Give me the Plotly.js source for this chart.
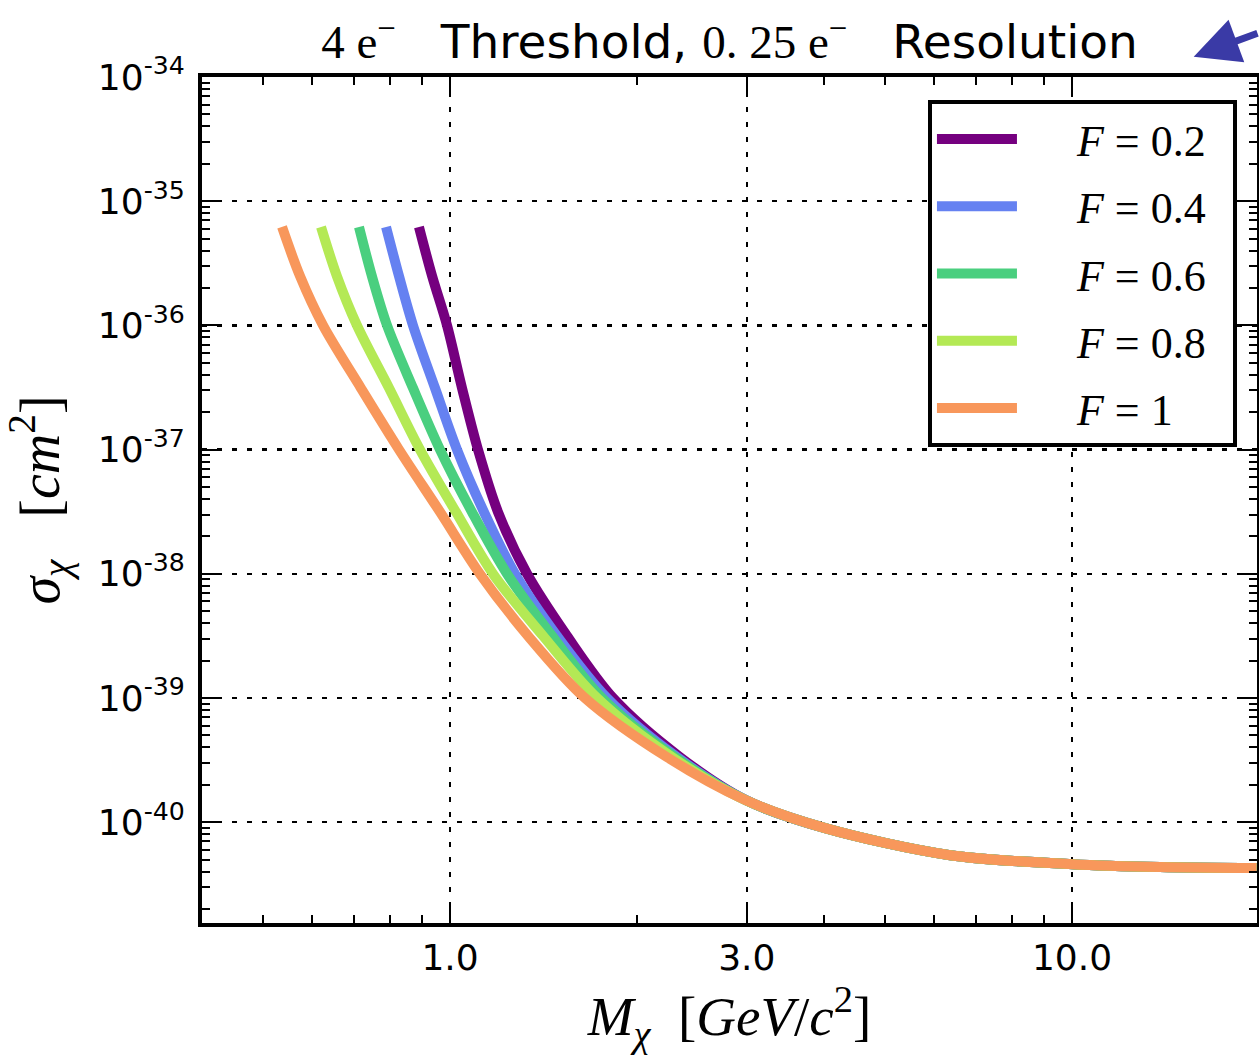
<!DOCTYPE html>
<html>
<head>
<meta charset="utf-8">
<script src="https://cdn.plot.ly/plotly-3.0.1.min.js"></script>
<style>html,body{margin:0;padding:0;background:#fff;}#chart{width:1259px;height:1059px;}</style>
</head>
<body>
<div id="chart"></div>
<script>
// ---- data (mass in GeV/c^2, cross-section in cm^2) ----
const seriesNames = ["<i>F</i> = 0.2", "<i>F</i> = 0.4", "<i>F</i> = 0.6", "<i>F</i> = 0.8", "<i>F</i> = 1"];
const seriesColors = ["#75007f", "#6581f1", "#4acf7f", "#b4e955", "#f8975b"];

const massF02 = [0.8915, 0.936, 0.989, 1.0454, 1.1091, 1.1945, 1.330, 1.542, 1.8284, 2.3432, 2.995, 4.01, 6.37, 10.0, 13.85, 19.8];
const sigmaF02 = [6.2e-36, 2.49e-36, 1.0e-36, 3.13e-37, 1.0e-37, 3.14e-38, 1.0e-38, 3.16e-39, 1.0e-39, 3.34e-40, 1.5e-40, 8.95e-41, 5.42e-41, 4.59e-41, 4.35e-41, 4.27e-41];

const massF04 = [0.7892, 0.828, 0.872, 0.946, 1.0262, 1.1341, 1.272, 1.4859, 1.788, 2.3174, 2.993, 4.01, 6.37, 10.0, 13.85, 19.8];
const sigmaF04 = [6.2e-36, 2.49e-36, 1.0e-36, 3.13e-37, 1.0e-37, 3.14e-38, 1.0e-38, 3.16e-39, 1.0e-39, 3.34e-40, 1.5e-40, 8.95e-41, 5.42e-41, 4.59e-41, 4.35e-41, 4.27e-41];

const massF06 = [0.714, 0.749, 0.7921, 0.872, 0.9637, 1.0848, 1.2349, 1.4588, 1.7553, 2.30, 2.99, 4.01, 6.37, 10.0, 13.85, 19.8];
const sigmaF06 = [6.2e-36, 2.49e-36, 1.0e-36, 3.13e-37, 1.0e-37, 3.14e-38, 1.0e-38, 3.16e-39, 1.0e-39, 3.34e-40, 1.5e-40, 8.95e-41, 5.42e-41, 4.59e-41, 4.35e-41, 4.27e-41];

const massF08 = [0.6204, 0.658, 0.7087, 0.798, 0.8948, 1.0225, 1.1726, 1.411, 1.7231, 2.2749, 2.99, 4.01, 6.37, 10.0, 13.85, 19.8];
const sigmaF08 = [6.2e-36, 2.49e-36, 1.0e-36, 3.13e-37, 1.0e-37, 3.14e-38, 1.0e-38, 3.16e-39, 1.0e-39, 3.34e-40, 1.5e-40, 8.95e-41, 5.42e-41, 4.59e-41, 4.35e-41, 4.27e-41];

const massF10 = [0.537, 0.574, 0.625, 0.719, 0.828, 0.964, 1.117, 1.335, 1.648, 2.233, 2.99, 4.01, 6.37, 10.0, 13.85, 19.8];
const sigmaF10 = [6.2e-36, 2.49e-36, 1.0e-36, 3.13e-37, 1.0e-37, 3.14e-38, 1.0e-38, 3.16e-39, 1.0e-39, 3.34e-40, 1.5e-40, 8.95e-41, 5.42e-41, 4.59e-41, 4.35e-41, 4.27e-41];

const xTickVals = [1, 3, 10];
const xTickText = ["1.0", "3.0", "10.0"];
const xMinorVals = [0.5, 0.6, 0.7, 0.8, 0.9, 2, 4, 5, 6, 7, 8, 9, 20];
const yTickVals = [1e-40, 1e-39, 1e-38, 1e-37, 1e-36, 1e-35, 1e-34];
const yTickText = ["10<sup>-40</sup>", "10<sup>-39</sup>", "10<sup>-38</sup>", "10<sup>-37</sup>", "10<sup>-36</sup>", "10<sup>-35</sup>", "10<sup>-34</sup>"];

const xs = [massF02, massF04, massF06, massF08, massF10];
const ys = [sigmaF02, sigmaF04, sigmaF06, sigmaF08, sigmaF10];

const pad = "&nbsp;&nbsp;&nbsp;&nbsp;&nbsp;";
const traces = xs.map((x, i) => ({
  type: "scatter",
  mode: "lines",
  x: x,
  y: ys[i],
  name: pad + seriesNames[i] + "&nbsp;&nbsp;",
  legendgroup: "g" + i,
  line: { color: seriesColors[i], width: 10, shape: "spline", smoothing: 0.9 }
}));

const serif = "Liberation Serif, DejaVu Serif, serif";
const sans = "DejaVu Sans, sans-serif";

const axisCommon = {
  showline: true, linecolor: "#000", linewidth: 4, mirror: "ticks",
  ticks: "inside", ticklen: 16, tickwidth: 2, tickcolor: "#000",
  showgrid: true, gridcolor: "#000", gridwidth: 2.5, griddash: "5px,10px",
  zeroline: false,
  tickfont: { family: sans, size: 36, color: "#000" }
};

const mathSpan = (t) => '<span style="font-family:Liberation Serif">' + t + '</span>';

const layout = {
  width: 1259, height: 1059,
  paper_bgcolor: "#fff", plot_bgcolor: "#fff",
  margin: { l: 202, r: 2, t: 77, b: 136 },
  showlegend: true,
  title: {
    text: mathSpan("4 e") + mathSpan("<sup>−</sup>") + "   Threshold, " + mathSpan("0. 25 e") + mathSpan("<sup>−</sup>") + "   Resolution",
    x: 0.5, xref: "paper", xanchor: "center",
    y: 1 - 42 / 1059, yref: "container", yanchor: "middle",
    font: { family: sans, size: 47, color: "#000" }
  },
  xaxis: Object.assign({}, axisCommon, {
    type: "log",
    range: [-0.3987, 1.2974],
    tickmode: "array", tickvals: xTickVals, ticktext: xTickText,
    minor: { tickmode: "array", tickvals: xMinorVals, ticks: "inside", ticklen: 8, tickwidth: 2, tickcolor: "#000", showgrid: false },
    title: { text: "<i>M</i><sub><i>χ</i></sub>&nbsp;&nbsp;[<i>GeV</i>/<i>c</i><sup>2</sup>]", font: { family: serif, size: 55, color: "#000" }, standoff: 10 }
  }),
  yaxis: Object.assign({}, axisCommon, {
    type: "log",
    range: [-40.812, -34],
    tickmode: "array", tickvals: yTickVals, ticktext: yTickText,
    minor: { dtick: "D1", ticks: "inside", ticklen: 8, tickwidth: 2, tickcolor: "#000", showgrid: false },
    ticklabelstandoff: 6,
    title: { text: "<i>σ</i><sub><i>χ</i></sub>&nbsp;&nbsp;&nbsp;[<i>cm</i><sup>2</sup>]", font: { family: serif, size: 56, color: "#000" }, standoff: 22 }
  }),
  legend: {
    x: 0.981, xanchor: "right", xref: "paper",
    y: 0.9728, yanchor: "top", yref: "paper",
    bgcolor: "#fff", bordercolor: "#000", borderwidth: 4,
    font: { family: serif, size: 44, color: "#000" },
    itemwidth: 80, tracegroupgap: 7,
    traceorder: "grouped"
  },
  annotations: [{
    xref: "paper", yref: "paper",
    x: 0.940, y: 1.024,
    ax: 80, ay: -24, axref: "pixel", ayref: "pixel",
    text: "", showarrow: true,
    arrowhead: 2, arrowsize: 1.3, arrowwidth: 7, arrowcolor: "#3a3aa6"
  }]
};

Plotly.newPlot("chart", traces, layout, { staticPlot: true });
</script>
</body>
</html>
